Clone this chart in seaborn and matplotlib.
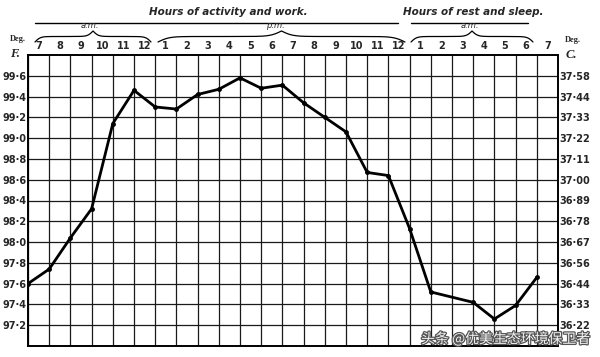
import numpy as np
import pandas as pd
import seaborn as sns
import matplotlib.pyplot as plt
import matplotlib.patheffects as pe

# data
hour_labels = ['7', '8', '9', '10', '11', '12',
               '1', '2', '3', '4', '5', '6', '7', '8', '9', '10', '11', '12',
               '1', '2', '3', '4', '5', '6', '7']
step = [0, 1, 2, 3, 4, 5, 6, 7, 8, 9, 10, 11, 12, 13, 14, 15, 16, 17, 18, 19,
        21, 22, 23, 24]
temp_f = [97.60, 97.74, 98.04, 98.32, 99.14, 99.46, 99.30, 99.28, 99.42,
          99.47, 99.58, 99.48, 99.51, 99.34, 99.20, 99.06, 98.67, 98.64,
          98.13, 97.52, 97.42, 97.26, 97.39, 97.66]
f_ticks = [97.2, 97.4, 97.6, 97.8, 98.0, 98.2, 98.4, 98.6, 98.8, 99.0,
           99.2, 99.4, 99.6]
f_labels = ['97·2', '97·4', '97·6', '97·8', '98·0', '98·2', '98·4', '98·6',
            '98·8', '99·0', '99·2', '99·4', '99·6']
c_labels = ['36·22', '36·33', '36·44', '36·56', '36·67', '36·78', '36·89',
            '37·00', '37·11', '37·22', '37·33', '37·44', '37·58']

df = pd.DataFrame({'step': step, 'temp_f': temp_f})

sns.set_style('white')
W, H = 600, 357
fig = plt.figure(figsize=(6, 3.57), dpi=100)


def fx(x):
    return x / W


def fy(y):
    return 1 - y / H


ax = fig.add_axes([fx(28), fy(346), fx(558) - fx(28), fy(55) - fy(346)])
sns.lineplot(data=df, x='step', y='temp_f', ax=ax, color='black', lw=2,
             marker='o', markersize=3.5, markeredgewidth=0, legend=False)

ax.set_xlim(0, len(hour_labels))
ax.set_ylim(97.0, 99.8)
ax.set_xticks(np.arange(0, len(hour_labels) + 1))
ax.set_xticklabels([])
ax.set_xticks(np.arange(len(hour_labels)) + 0.5, minor=True)
ax.set_xticklabels(hour_labels, minor=True, fontsize=7, fontweight='bold')
ax.xaxis.tick_top()
ax.tick_params(axis='x', which='both', length=0, pad=3)
ax.set_yticks(f_ticks)
ax.set_yticklabels(f_labels, fontsize=7, fontweight='bold')
ax.tick_params(axis='y', length=0, pad=1)
ax.grid(True, which='major', color='#1a1a1a', lw=0.9)
ax.set_xlabel('')
ax.set_ylabel('')
for s in ax.spines.values():
    s.set_visible(True)
    s.set_color('black')
    s.set_linewidth(1.4)

ax2 = ax.twinx()
ax2.set_ylim(ax.get_ylim())
ax2.set_yticks(f_ticks)
ax2.set_yticklabels(c_labels, fontsize=7, fontweight='bold')
ax2.tick_params(axis='y', length=0, pad=1)
for s in ax2.spines.values():
    s.set_visible(False)

# headings
fig.text(fx(228), fy(12), 'Hours of activity and work.', fontsize=7.5,
         style='italic', fontweight='bold', ha='center', va='center')
fig.text(fx(473), fy(12), 'Hours of rest and sleep.', fontsize=7.5,
         style='italic', fontweight='bold', ha='center', va='center')
fig.add_artist(plt.Line2D([fx(35), fx(398)], [fy(23), fy(23)], color='black', lw=1))
fig.add_artist(plt.Line2D([fx(411), fx(528)], [fy(23), fy(23)], color='black', lw=1))


# curly brace opening downward, ends at y, tip at y - h
def brace(x0, x1, y, h=11):
    half = np.linspace(0, 1, 151)
    beta = 22
    yh = 1 / (1 + np.exp(-beta * half)) + 1 / (1 + np.exp(-beta * (half - 1)))
    ys = np.concatenate([yh, yh[-2::-1]])
    xs = np.linspace(x0, x1, len(ys))
    ys = y - (ys - 0.5) * h
    fig.add_artist(plt.Line2D(fx(xs), fy(ys), color='black', lw=0.9))


brace(35, 151, 42)
brace(158, 405, 42)
brace(411, 533, 42)
fig.text(fx(90), fy(26), 'a.m.', fontsize=6, style='italic', ha='center', va='center')
fig.text(fx(275), fy(26), 'p.m.', fontsize=6, style='italic', ha='center', va='center')
fig.text(fx(470), fy(26), 'a.m.', fontsize=6, style='italic', ha='center', va='center')

fig.text(fx(18), fy(39), 'Deg.', fontsize=6, fontweight='bold', ha='center', va='center',
         family='Liberation Serif')
fig.text(fx(15), fy(54), 'F.', fontsize=9, fontweight='bold', style='italic',
         ha='center', va='center', family='Liberation Serif')
fig.text(fx(573), fy(40), 'Deg.', fontsize=6, fontweight='bold', ha='center', va='center',
         family='Liberation Serif')
fig.text(fx(571), fy(55), 'C.', fontsize=9, fontweight='bold', style='italic',
         ha='center', va='center', family='Liberation Serif')

# watermark
fig.text(fx(590), fy(339), '头条 @优美生态环境保卫者', fontsize=10, ha='right', va='center',
         color='#f2f2f2', family=['Noto Sans CJK SC', 'DejaVu Sans'],
         path_effects=[pe.withStroke(linewidth=1.8, foreground='#555555')])

fig.savefig('out.png', dpi=100, facecolor='white')
